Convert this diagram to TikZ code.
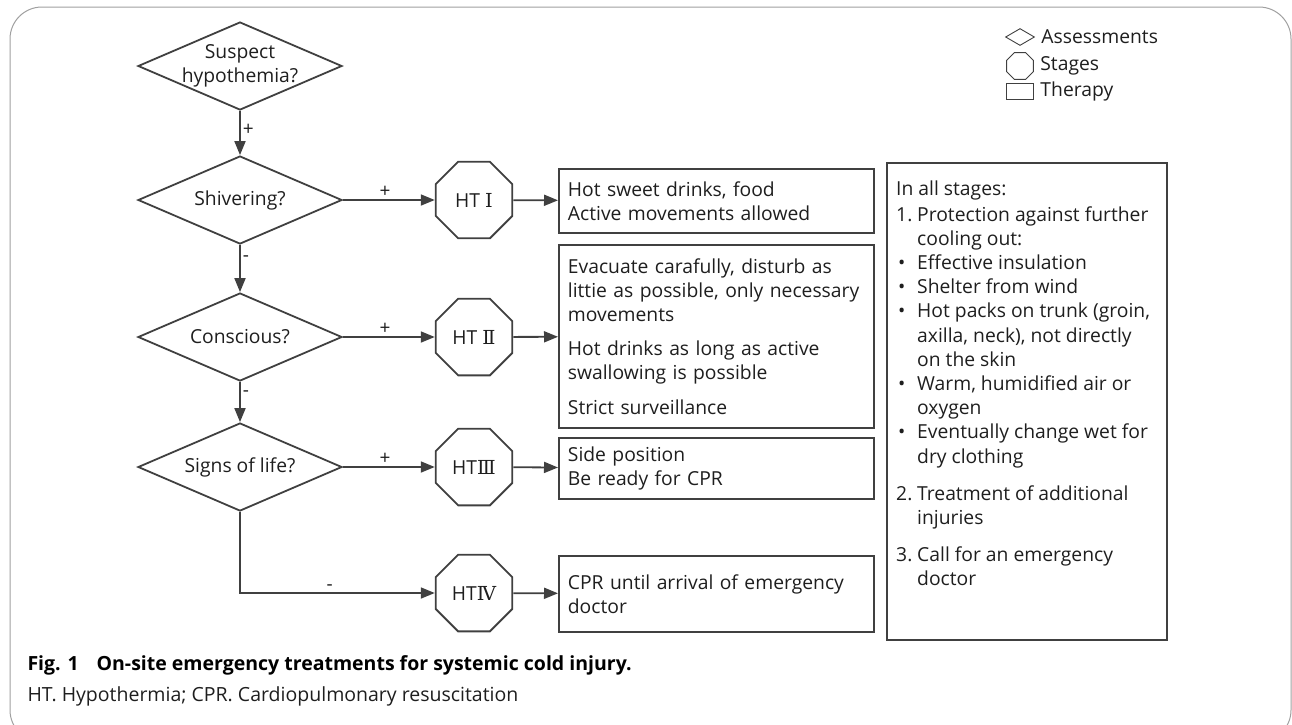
\documentclass[tikz,border=0pt]{standalone}
\usepackage{fontspec}
\setmainfont{Open Sans}
\newfontfamily\numfont{DejaVu Serif}
\usepackage{xcolor}
\usetikzlibrary{shapes.geometric,arrows.meta,positioning}

\definecolor{linegray}{HTML}{404040}
\definecolor{framegray}{HTML}{A0A0A0}
\definecolor{textgray}{HTML}{1E1E1E}

\begin{document}
\begin{tikzpicture}[x=1pt,y=-1pt,
  font=\fontsize{19.3}{24.2}\selectfont, text=textgray,
  assess/.style={draw=linegray, line width=1.8pt, diamond, aspect=2.3, inner sep=-8pt,
    minimum width=204pt, minimum height=88pt, align=center},
  stage/.style={draw=linegray, line width=1.8pt, regular polygon, regular polygon sides=8,
    minimum size=83pt, inner sep=0pt},
  therapy/.style={draw=linegray, line width=1.8pt, anchor=north west, inner xsep=9pt,
    text width=297pt, align=left},
  flow/.style={draw=linegray, line width=1.8pt, -{Triangle[length=14pt,width=11pt]}},
  sign/.style={font=\fontsize{19}{19}\selectfont, inner sep=2pt},
  legendshape/.style={draw=linegray, line width=.9pt, inner sep=0pt},
]
\useasboundingbox (0,0) rectangle (1292,724);
% rounded frame
\draw[framegray, line width=1pt, rounded corners=32pt] (10,7) rectangle (1291,742);

% assessments
\node[assess] (q0) at (240,66) {Suspect\\hypothemia?};
\node[assess] (q1) at (240,200) {Shivering?};
\node[assess] (q2) at (240,337) {Conscious?};
\node[assess] (q3) at (240,467) {Signs of life?};

% stages
\node[stage] (ht1) at (474,200) {HT {\numfont Ⅰ}};
\node[stage] (ht2) at (474,337) {HT {\numfont Ⅱ}};
\node[stage] (ht3) at (474,467) {HT{\numfont Ⅲ}};
\node[stage] (ht4) at (474,593) {HT{\numfont Ⅳ}};

% therapy
\node[therapy, minimum height=64pt] (tx1) at (558,168)
  {Hot sweet drinks, food\\Active movements allowed};
\node[therapy, minimum height=183pt] (tx2) at (558,244)
  {Evacuate carafully, disturb as\\littie as possible, only necessary\\movements\\[10pt]
   Hot drinks as long as active\\swallowing is possible\\[10pt]Strict surveillance};
\node[therapy, minimum height=61pt] (tx3) at (558,437)
  {Side position\\Be ready for CPR};
\node[therapy, minimum height=76pt] (tx4) at (558,555)
  {CPR until arrival of emergency\\doctor};

% all stages
\node[draw=linegray, line width=1.8pt, anchor=north west, minimum width=280pt,
  minimum height=477pt] (allbox) at (886,162) {};
\node[anchor=north west, align=left, inner sep=0pt] (alltxt)
  at ([xshift=10pt,yshift=-19pt]allbox.north west)
  {In all stages:\\[1pt]
   \makebox[21pt][l]{1.}Protection against further\\
   \hspace*{21pt}cooling out:\\
   \makebox[21pt][l]{\hspace{2pt}\textbullet}Effective insulation\\
   \makebox[21pt][l]{\hspace{2pt}\textbullet}Shelter from wind\\
   \makebox[21pt][l]{\hspace{2pt}\textbullet}Hot packs on trunk (groin,\\
   \hspace*{21pt}axilla, neck), not directly\\
   \hspace*{21pt}on the skin\\
   \makebox[21pt][l]{\hspace{2pt}\textbullet}Warm, humidified air or\\
   \hspace*{21pt}oxygen\\
   \makebox[21pt][l]{\hspace{2pt}\textbullet}Eventually change wet for\\
   \hspace*{21pt}dry clothing\\[13pt]
   \makebox[21pt][l]{2.}Treatment of additional\\
   \hspace*{21pt}injuries\\[13pt]
   \makebox[21pt][l]{3.}Call for an emergency\\
   \hspace*{21pt}doctor};

% legend
\node[legendshape, diamond, minimum width=29pt, minimum height=17pt] (lgA) at (1020,37) {};
\node[right=3pt of lgA] (lgAtxt) {Assessments};
\node[legendshape, regular polygon, regular polygon sides=8, minimum size=29pt] (lgB) at (1020,66) {};
\node[right=3pt of lgB] (lgBtxt) {Stages};
\node[legendshape, minimum width=27pt, minimum height=16pt] (lgC) at (1020,91) {};
\node[right=3pt of lgC] (lgCtxt) {Therapy};

% connectors
\draw[flow] (q0) -- node[sign, right, pos=.42] {+} (q1);
\draw[flow] (q1) -- node[sign, right, pos=.3] {-} (q2);
\draw[flow] (q2) -- node[sign, right, pos=.3] {-} (q3);
\draw[flow] (q1) -- node[sign, above, pos=.46] {+} (ht1);
\draw[flow] (q2) -- node[sign, above, pos=.46] {+} (ht2);
\draw[flow] (q3) -- node[sign, above, pos=.46] {+} (ht3);
\draw[flow] (q3) |- node[sign, above, pos=.73] {-} (ht4);
\draw[flow] (ht1) -- (tx1);
\draw[flow] (ht2) -- (tx2);
\draw[flow] (ht3) -- (tx3);
\draw[flow] (ht4) -- (tx4);

% caption
\node[anchor=west, font=\fontsize{19.5}{20}\selectfont\bfseries, text=black] (cap) at (24,665)
  {Fig. 1\hspace{18pt}On-site emergency treatments for systemic cold injury.};
\node[anchor=west, font=\fontsize{19.5}{20}\selectfont] (note) at (24,696)
  {HT. Hypothermia; CPR. Cardiopulmonary resuscitation};
\end{tikzpicture}
\end{document}
